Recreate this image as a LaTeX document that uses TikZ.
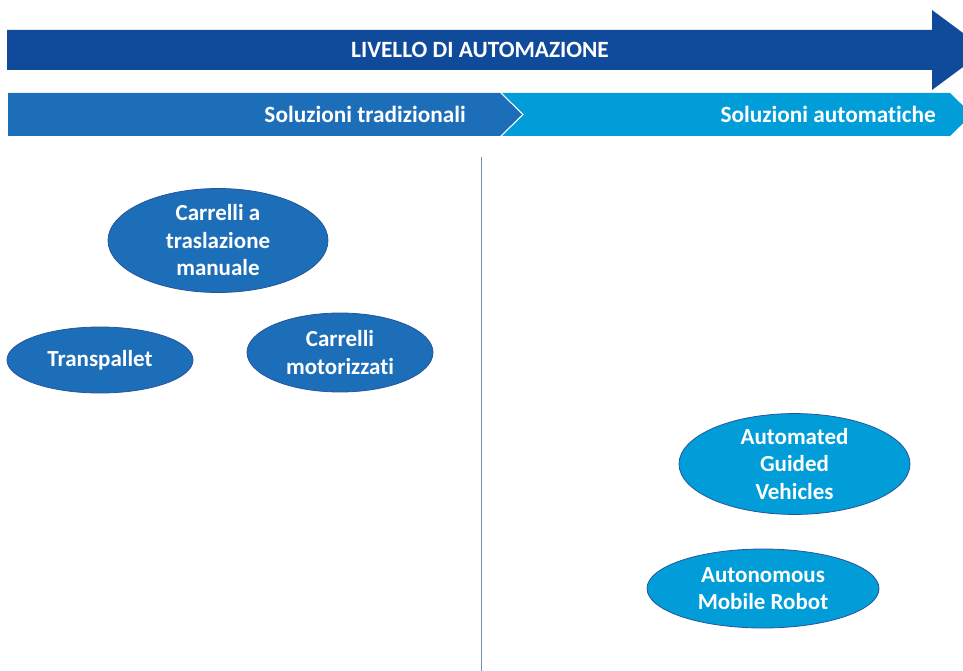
\documentclass[tikz,border=0pt]{standalone}
\usepackage{fontspec}
\setmainfont{Carlito}[Ligatures=NoCommon]
\usetikzlibrary{shapes.geometric}
\definecolor{arrowblue}{RGB}{16,75,155}
\definecolor{tradblue}{RGB}{28,110,184}
\definecolor{autoblue}{RGB}{0,157,217}
\definecolor{edgeblue}{RGB}{40,85,155}
\definecolor{sepline}{RGB}{120,140,180}
\tikzset{
  oval/.style={ellipse, draw=edgeblue, line width=0.8pt, inner sep=0pt,
    text=white, align=center, font=\fontsize{23}{27.5}\selectfont\bfseries},
  tradoval/.style={oval, fill=tradblue},
  autooval/.style={oval, fill=autoblue},
  headtext/.style={text=white, font=\fontsize{23.3}{26}\selectfont\bfseries, inner sep=0pt},
}
\begin{document}
\begin{tikzpicture}[x=1pt,y=-1pt]
\useasboundingbox (0,0) rectangle (963,671);
% top arrow
\fill[arrowblue] (7,30) -- (932,30) -- (932,10) -- (986,50) -- (932,90) -- (932,70) -- (7,70) -- cycle;
\node[headtext] (lev) at (480,50) {LIVELLO DI AUTOMAZIONE};
% chevrons
\fill[tradblue] (8,93) -- (500,93) -- (522,114.5) -- (500,136) -- (8,136) -- cycle;
\fill[autoblue] (502,93) -- (950,93) -- (972,114.5) -- (950,136) -- (502,136) -- (524,114.5) -- cycle;
\node[headtext, anchor=east] (trad) at (466,114) {Soluzioni tradizionali};
\node[headtext, anchor=east] (auto) at (936,114) {Soluzioni automatiche};
% separator
\coordinate (s1) at (481.5,157);
\coordinate (s2) at (481.5,671);
\draw[sepline, line width=1pt] (s1) -- (s2);
% ovals
\node[tradoval, minimum width=220pt, minimum height=104pt] (ctm) at (218,240.5) {Carrelli a\\traslazione\\manuale};
\node[tradoval, minimum width=186pt, minimum height=66pt] (tp) at (100,360) {Transpallet};
\node[tradoval, minimum width=186pt, minimum height=79pt] (cm) at (340,352.5) {Carrelli\\motorizzati};
\node[autooval, minimum width=231pt, minimum height=98pt] (agv) at (794.5,464) {Automated\\Guided\\Vehicles};
\node[autooval, minimum width=232pt, minimum height=79pt] (amr) at (763,588.5) {Autonomous\\Mobile Robot};
\end{tikzpicture}
\end{document}
